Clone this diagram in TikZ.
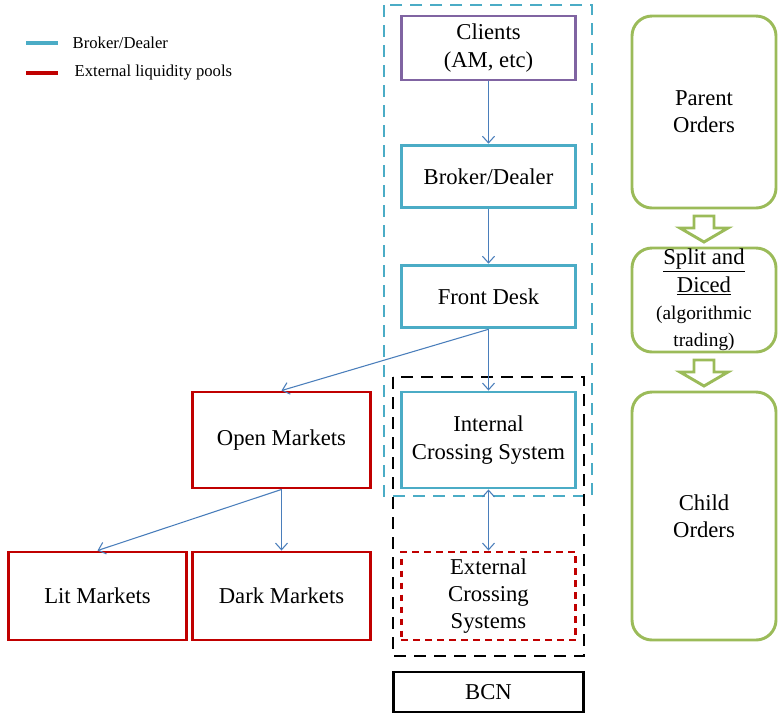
\documentclass[tikz,border=0pt]{standalone}
\usepackage{fontspec}
\setmainfont{Liberation Serif}
\usetikzlibrary{arrows.meta,positioning}

\definecolor{bdblue}{HTML}{4BACC6}
\definecolor{clpurple}{HTML}{8064A2}
\definecolor{poolred}{HTML}{C00000}
\definecolor{ordgreen}{HTML}{9BBB59}
\definecolor{flowblue}{HTML}{4A7EBB}

\begin{document}
\begin{tikzpicture}[x=0.75pt, y=-0.75pt,
    box/.style={draw, line width=2.2pt, inner sep=0pt, align=center,
        minimum width=131pt, font=\fontsize{17}{20.5}\selectfont},
    bdbox/.style={box, bdblue},
    poolbox/.style={box, poolred, minimum width=133pt},
    ordbox/.style={box, ordgreen, rounded corners=15pt, minimum width=108pt},
    flow/.style={flowblue, line width=0.8pt, -{Straight Barb[length=5pt,width=9pt]}}
]
\useasboundingbox (0,0) rectangle (779,715);

% legend
\node (legbd) [anchor=west, font=\fontsize{12.5}{15}\selectfont] at (68,43) {Broker/Dealer};
\node (legpool) [anchor=west, font=\fontsize{12.5}{15}\selectfont] at (70,73) {External liquidity pools};
\draw[bdblue, line width=2.4pt] (26,43) -- (legbd.west -| 58,43);
\draw[poolred, line width=2.4pt] (26,73) -- (legpool.west -| 58,73);

% main column
\node (clients) [box, clpurple, text=black, minimum height=48pt] at (488.5,48) {Clients\\(AM, etc)};
\node (broker) [bdbox, text=black, minimum height=47pt] at (488.5,176.5) {Broker/Dealer};
\node (fdesk) [bdbox, text=black, minimum height=47pt] at (488.5,296.5) {Front Desk};
\node (ics) [bdbox, text=black, minimum height=72pt] at (488.5,440) {Internal\\Crossing System};
\node (ecs) [box, poolred, dashed, dash pattern=on 5pt off 4pt, text=black, minimum height=66pt] at (488.5,596) {External\\Crossing\\Systems};
\node (bcn) [box, black, minimum width=143pt, minimum height=30pt] at (488.5,692) {BCN};

% groups
\draw[bdblue, line width=2.2pt, dash pattern=on 9pt off 6pt] (384,5) rectangle (592,496);
\draw[black, line width=2.2pt, dash pattern=on 9pt off 6pt] (393,377) rectangle (584,656);

% markets
\node (open) [poolbox, text=black, minimum height=72pt] at (281.5,440) {Open Markets};
\node (lit) [poolbox, text=black, minimum height=66pt] at (97.5,596) {Lit Markets};
\node (dark) [poolbox, text=black, minimum height=66pt] at (281.5,596) {Dark Markets};

% orders
\node (parent) [ordbox, text=black, minimum height=144pt] at (704,112) {Parent\\Orders};
\node (split) [ordbox, text=black, minimum height=78pt] at (704,300)
    {\underline{Split and}\\\underline{Diced}\\{\fontsize{14.5}{17}\selectfont (algorithmic}\\{\fontsize{14.5}{17}\selectfont trading)}};
\node (child) [ordbox, text=black, minimum height=186pt] at (704,516) {Child\\Orders};

\foreach \t in {216,360}
{
    \draw[ordgreen, line width=2.2pt] (694,\t) -- (714,\t) -- (714,{\t+12}) -- (728,{\t+12})
        -- (704,{\t+26}) -- (680,{\t+12}) -- (694,{\t+12}) -- cycle;
}

% flows
\draw[flow] (clients) -- (broker);
\draw[flow] (broker) -- (fdesk);
\draw[flow] (fdesk) -- (ics);
\draw[flow] (fdesk.south) -- (open.north);
\draw[flow] (open.south) -- (lit.north);
\draw[flow] (open) -- (dark);
\draw[flow, {Straight Barb[length=5pt,width=9pt]}-{Straight Barb[length=5pt,width=9pt]}] (ics) -- (ecs);
\end{tikzpicture}
\end{document}
